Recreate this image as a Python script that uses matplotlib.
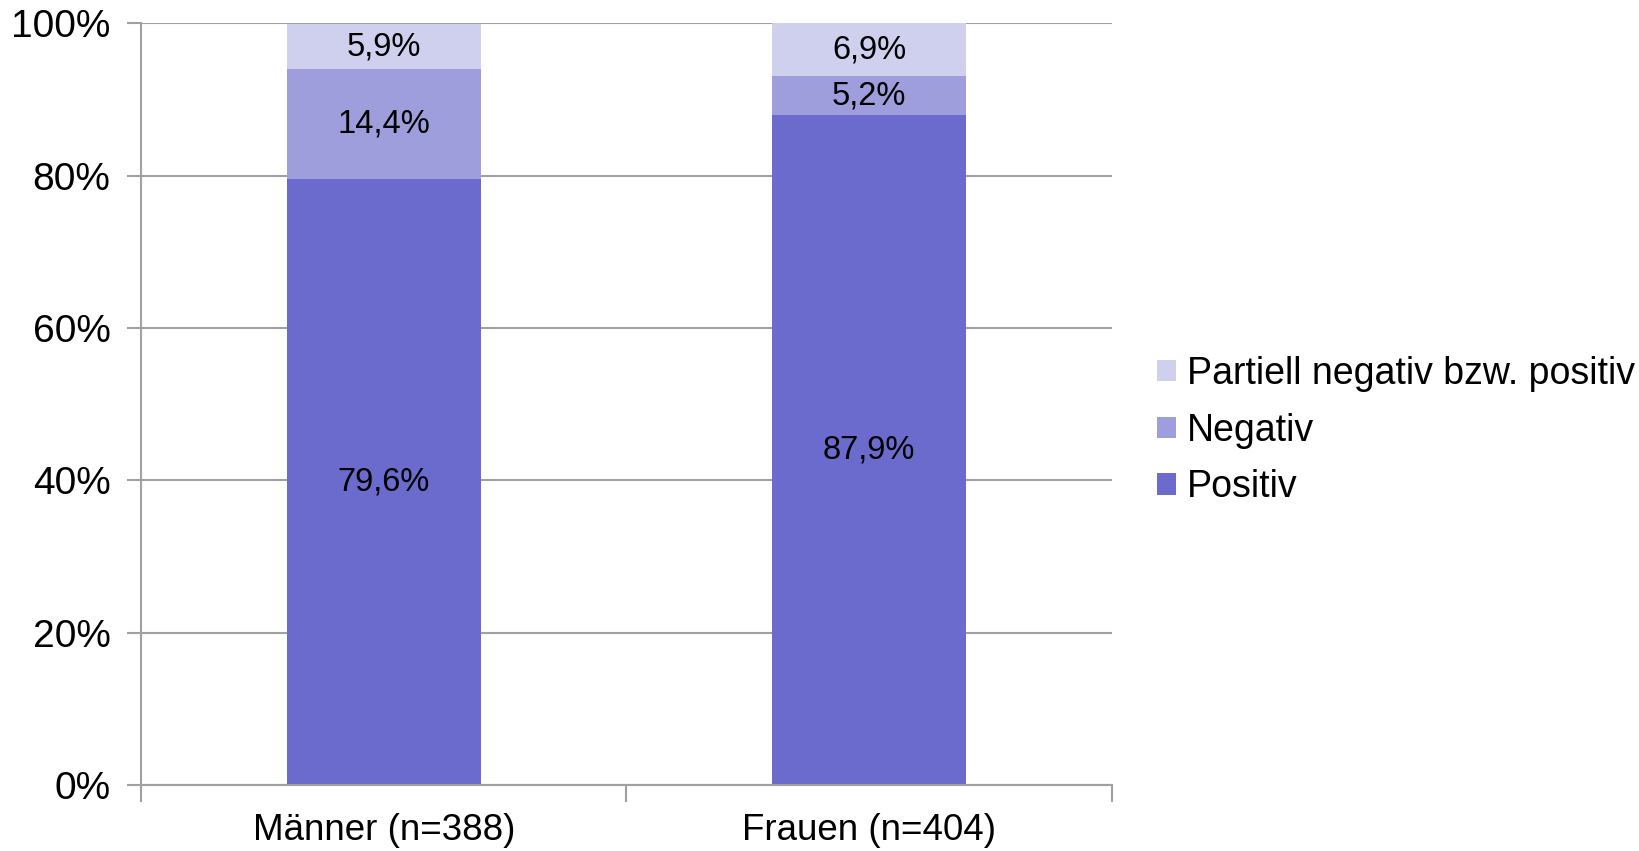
import matplotlib.pyplot as plt
from matplotlib.patches import Patch

plt.rcParams['font.family'] = ['Liberation Sans', 'DejaVu Sans']

groups = ['Männer (n=388)', 'Frauen (n=404)']
positiv = [79.6, 87.9]
negativ = [14.4, 5.2]
partiell = [5.9, 6.9]

series = [
    ('Positiv', positiv, '#6B6BCD'),
    ('Negativ', negativ, '#9E9EDD'),
    ('Partiell negativ bzw. positiv', partiell, '#CFCFEE'),
]


def fmt(v):
    return f'{v:.1f}%'.replace('.', ',')


def main():
    fig = plt.figure(figsize=(16.4, 8.51), dpi=100)
    ax = fig.add_axes([0.086, 0.0776, 0.592, 0.895])

    x = list(range(len(groups)))
    bottom = [0.0] * len(groups)
    for name, vals, color in series:
        ax.bar(x, vals, width=0.4, bottom=bottom, color=color, zorder=2)
        for xi, b, v in zip(x, bottom, vals):
            ax.text(xi, b + v / 2, fmt(v), ha='center', va='center',
                    fontsize=23.5, color='black', zorder=3)
        bottom = [b + v for b, v in zip(bottom, vals)]

    ax.set_xlim(-0.5, 1.5)
    ax.set_ylim(0, 100)
    ax.set_yticks(range(0, 101, 20))
    ax.set_yticklabels([f'{t}%' for t in range(0, 101, 20)], fontsize=28)
    ax.set_xticks(x)
    ax.set_xticklabels(groups, fontsize=26.5)
    ax.set_xticks([-0.5, 0.5, 1.5], minor=True)
    ax.tick_params(axis='x', which='major', length=0, pad=20)
    ax.tick_params(axis='x', which='minor', length=12, width=1.5, color='#A0A0A0')
    ax.tick_params(axis='y', length=10, width=1.5, color='#A0A0A0', pad=12)

    ax.grid(axis='y', color='#A0A0A0', linewidth=1.5, zorder=1)
    for side in ('top', 'right'):
        ax.spines[side].set_visible(False)
    for side in ('left', 'bottom'):
        ax.spines[side].set_color('#A0A0A0')
        ax.spines[side].set_linewidth(1.5)

    handles = [Patch(facecolor=c, label=n) for n, _, c in reversed(series)]
    fig.legend(handles=handles, loc='center left', bbox_to_anchor=(0.694, 0.494),
               frameon=False, fontsize=27, handlelength=0.5, handleheight=0.5,
               handletextpad=0.3, labelspacing=0.55, borderpad=0)

    fig.savefig('out.png', dpi=100)


if __name__ == "__main__":
    main()
